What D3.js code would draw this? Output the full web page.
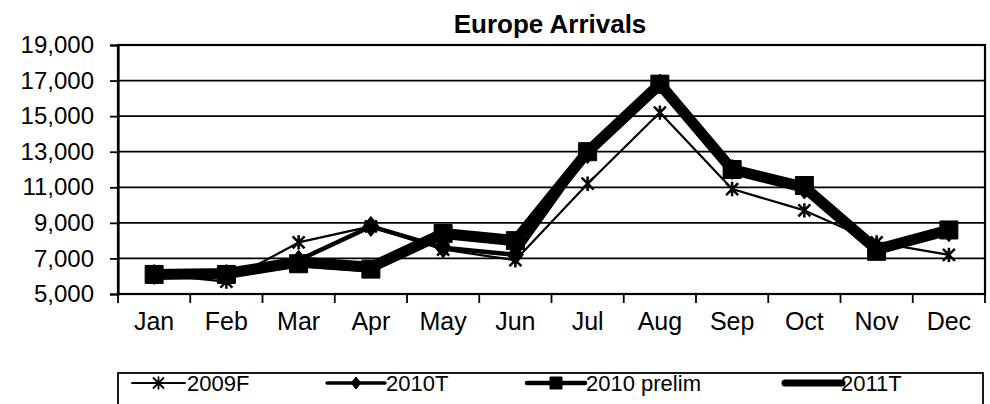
<!DOCTYPE html>
<html><head><meta charset="utf-8">
<script src="https://cdn.jsdelivr.net/npm/d3@7"></script>
<style>
html,body{margin:0;padding:0;background:#fff;}
svg{display:block;}
text{font-family:"Liberation Sans",Arial,sans-serif;fill:#000;}
</style></head>
<body>
<svg id="chart" width="990" height="404"></svg>
<script>
const months = ["Jan","Feb","Mar","Apr","May","Jun","Jul","Aug","Sep","Oct","Nov","Dec"];
const yTicks = [5000,7000,9000,11000,13000,15000,17000,19000];
const seriesNames = ["2009F","2010T","2010 prelim","2011T"];
const v2009F      = [6100,5700,7900,8800,7500,6900,11200,15200,10900,9700,7900,7200];
const v2010T      = [6100,6100,6900,8800,7600,7200,12900,16800,12000,10900,7600,8500];
const v2010prelim = [6100,6100,6700,6400,8400,8000,13000,16800,12000,11100,7400,8600];
const v2011T      = [6100,6150,6800,6500,8400,8000,13000,16800,12000,11000,7500,8600];
const titleText = "Europe Arrivals";

const svg = d3.select("#chart");
const L = 118, R = 985, T = 45, B = 294;
const x = d3.scaleBand().domain(months).range([L, R]);
const y = d3.scaleLinear().domain([5000, 19000]).range([B, T]);
const cx = m => x(m) + x.bandwidth() / 2;

svg.append("rect").attr("width", 990).attr("height", 404).attr("fill", "#fff");

// title
svg.append("text").attr("x", 550).attr("y", 33).attr("text-anchor", "middle")
  .style("font-size", "26px").style("font-weight", "bold").text(titleText);

// gridlines
svg.append("g").selectAll("line").data(yTicks.filter(t => t > 5000 && t < 19000)).join("line")
  .attr("x1", L).attr("x2", R).attr("y1", d => y(d)).attr("y2", d => y(d))
  .attr("stroke", "#000").attr("stroke-width", 1.8);

// frame
svg.append("rect").attr("x", L).attr("y", T).attr("width", R - L).attr("height", B - T)
  .attr("fill", "none").attr("stroke", "#000").attr("stroke-width", 2.2);

// y axis
const yAxis = d3.axisLeft(y).tickValues(yTicks).tickFormat(d3.format(",")).tickSize(8).tickPadding(16);
const gy = svg.append("g").attr("transform", `translate(${L},0)`).call(yAxis);
gy.select(".domain").attr("stroke", "#000").attr("stroke-width", 2.2);
gy.selectAll(".tick line").attr("stroke", "#000").attr("stroke-width", 1.8);
gy.selectAll(".tick text").style("font-size", "24px").style("font-family", "Liberation Sans, Arial, sans-serif").attr("fill", "#000");

// x axis
const xAxis = d3.axisBottom(x).tickSize(0).tickPadding(28);
const gx = svg.append("g").attr("transform", `translate(0,${B})`).call(xAxis);
gx.select(".domain").remove();
gx.selectAll(".tick text").style("font-size", "25px").style("font-family", "Liberation Sans, Arial, sans-serif").attr("fill", "#000").attr("dy", "0.3em");
// boundary tick marks
const bounds = months.map(m => x(m)).concat([R]);
svg.append("g").selectAll("line").data(bounds).join("line")
  .attr("x1", d => d).attr("x2", d => d).attr("y1", B).attr("y2", B + 9)
  .attr("stroke", "#000").attr("stroke-width", 1.8);

// marker paths
function starPath(s) {
  const h = s / 2;
  return `M${-h},${-h}L${h},${h}M${-h},${h}L${h},${-h}M0,${-h * 1.2}L0,${h * 1.2}`;
}
function diamondPath(s) {
  const h = s / 2;
  return `M0,${-h}L${h * 0.8},0L0,${h}L${-h * 0.8},0Z`;
}
function squarePath(s) {
  const h = s / 2;
  return `M${-h},${-h}H${h}V${h}H${-h}Z`;
}

const series = [
  { name: seriesNames[0], values: v2009F, width: 2.2, marker: "star", size: 12 },
  { name: seriesNames[1], values: v2010T, width: 4.5, marker: "diamond", size: 20 },
  { name: seriesNames[2], values: v2010prelim, width: 7, marker: "square", size: 18 },
  { name: seriesNames[3], values: v2011T, width: 11, marker: null, size: 0 }
];

const line = d3.line().x((d, i) => cx(months[i])).y(d => y(d));
const plot = svg.append("g");
series.forEach(s => {
  plot.append("path").datum(s.values).attr("d", line)
    .attr("fill", "none").attr("stroke", "#000").attr("stroke-width", s.width)
    .attr("stroke-linejoin", "round");
  if (s.marker) {
    plot.append("g").selectAll("path").data(s.values).join("path")
      .attr("transform", (d, i) => `translate(${cx(months[i])},${y(d)})`)
      .attr("d", s.marker === "star" ? starPath(s.size) : s.marker === "diamond" ? diamondPath(s.size) : squarePath(s.size))
      .attr("fill", s.marker === "star" ? "none" : "#000")
      .attr("stroke", "#000").attr("stroke-width", s.marker === "star" ? 2.5 : 1);
  }
});

// legend
const lg = svg.append("g");
lg.append("rect").attr("x", L).attr("y", 373).attr("width", R - 2 - L).attr("height", 50)
  .attr("fill", "#fff").attr("stroke", "#000").attr("stroke-width", 1.8);
const legendPos = [
  { x1: 132, x2: 185, tx: 187, lw: 1.8, ms: 11 },
  { x1: 327, x2: 385, tx: 386, lw: 3.5, ms: 12 },
  { x1: 527, x2: 585, tx: 586, lw: 4.5, ms: 12 },
  { x1: 785, x2: 842, tx: 841, lw: 7, ms: 0 }
];
series.forEach((s, i) => {
  const p = legendPos[i];
  const ly = 383;
  lg.append("line").attr("x1", p.x1).attr("x2", p.x2).attr("y1", ly).attr("y2", ly)
    .attr("stroke", "#000").attr("stroke-width", p.lw).attr("stroke-linecap", "round");
  if (s.marker) {
    const mx = (p.x1 + p.x2) / 2;
    lg.append("path").attr("transform", `translate(${mx},${ly})`)
      .attr("d", s.marker === "star" ? starPath(p.ms) : s.marker === "diamond" ? diamondPath(p.ms) : squarePath(p.ms))
      .attr("fill", s.marker === "star" ? "none" : "#000")
      .attr("stroke", "#000").attr("stroke-width", s.marker === "star" ? 1.8 : 1);
  }
  lg.append("text").attr("x", p.tx).attr("y", ly + 8).style("font-size", "22px").text(s.name);
});
</script>
</body></html>
